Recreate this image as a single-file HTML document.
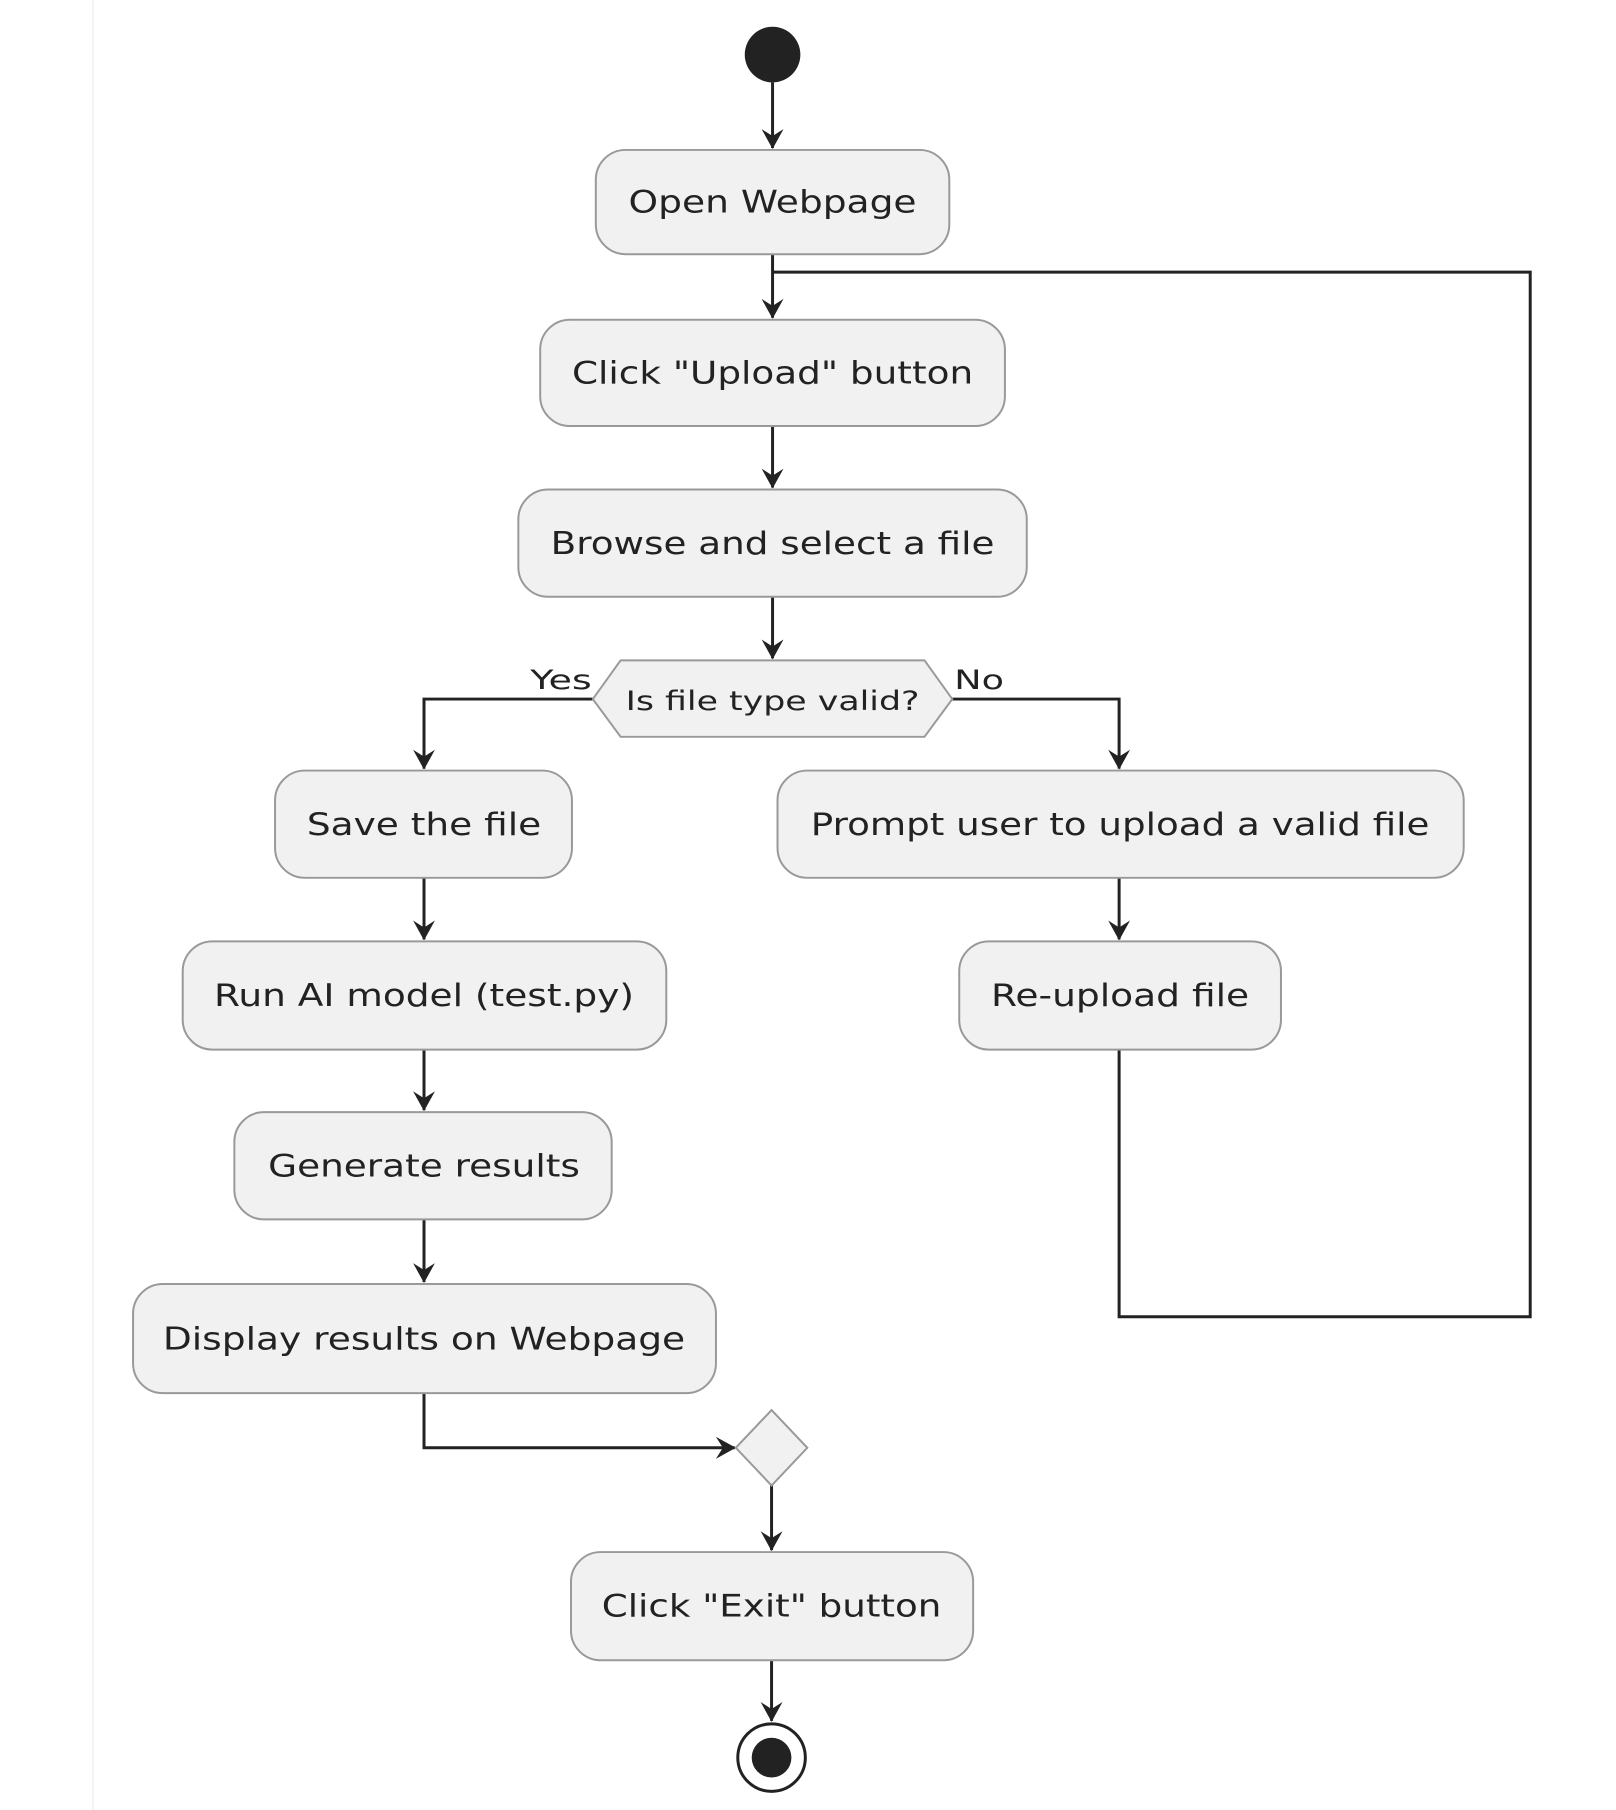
<!DOCTYPE html>
<html><head><meta charset="utf-8"><style>html,body{margin:0;padding:0;background:#fff}svg{display:block}</style></head>
<body>
<svg width="1616" height="1810" viewBox="0 0 1616 1810" xmlns="http://www.w3.org/2000/svg" font-family="'DejaVu Sans','Liberation Sans',sans-serif" font-size="31" fill="#222">
<defs>
<marker id="a" markerWidth="22" markerHeight="24" refX="19" refY="12" orient="auto" markerUnits="userSpaceOnUse">
<path d="M0,1 L20,12 L0,23 L7,12 Z" fill="#222"/>
</marker>
</defs>
<line x1="93" y1="0" x2="93" y2="1810" stroke="#f4f4f4" stroke-width="2"/>
<g transform="scale(0.993)">
<g stroke="#222" stroke-width="3" fill="none">
<line x1="778" y1="83" x2="778" y2="149" marker-end="url(#a)"/>
<line x1="778" y1="256" x2="778" y2="320" marker-end="url(#a)"/>
<line x1="778" y1="429" x2="778" y2="491" marker-end="url(#a)"/>
<line x1="778" y1="601" x2="778" y2="663" marker-end="url(#a)"/>
<polyline points="778,274 1541,274 1541,1326 1127,1326 1127,1057"/>
<polyline points="597,704 427,704 427,774" marker-end="url(#a)"/>
<polyline points="959,704 1127,704 1127,774" marker-end="url(#a)"/>
<line x1="427" y1="884" x2="427" y2="946" marker-end="url(#a)"/>
<line x1="427" y1="1057" x2="427" y2="1118" marker-end="url(#a)"/>
<line x1="427" y1="1228" x2="427" y2="1291" marker-end="url(#a)"/>
<line x1="1127" y1="884" x2="1127" y2="946" marker-end="url(#a)"/>
<polyline points="427,1403 427,1458 740,1458" marker-end="url(#a)"/>
<line x1="777" y1="1496" x2="777" y2="1561" marker-end="url(#a)"/>
<line x1="777" y1="1672" x2="777" y2="1733" marker-end="url(#a)"/>
</g>
<circle cx="778" cy="55" r="28" fill="#222"/>
<g fill="#f1f1f1" stroke="#999" stroke-width="2">
<rect x="600" y="151" width="356" height="105" rx="30"/>
<rect x="544" y="322" width="468" height="107" rx="30"/>
<rect x="522" y="493" width="512" height="108" rx="30"/>
<polygon points="597,704 625,665 931,665 959,704 931,742 625,742"/>
<rect x="277" y="776" width="299" height="108" rx="30"/>
<rect x="783" y="776" width="691" height="108" rx="30"/>
<rect x="184" y="948" width="487" height="109" rx="30"/>
<rect x="966" y="948" width="324" height="109" rx="30"/>
<rect x="236" y="1120" width="380" height="108" rx="30"/>
<rect x="134" y="1293" width="587" height="110" rx="30"/>
<polygon points="777,1420 813,1458 777,1496 741,1458"/>
<rect x="575" y="1563" width="405" height="109" rx="30"/>
</g>
<circle cx="777" cy="1770" r="34" fill="#fff" stroke="#222" stroke-width="3"/>
<circle cx="777" cy="1770" r="20" fill="#222"/>
<g text-anchor="middle">
<text x="778" y="214" textLength="290" lengthAdjust="spacingAndGlyphs">Open Webpage</text>
<text x="778" y="386" textLength="404" lengthAdjust="spacingAndGlyphs">Click "Upload" button</text>
<text x="778" y="558" textLength="447" lengthAdjust="spacingAndGlyphs">Browse and select a file</text>
<text x="778" y="715" font-size="27" textLength="296" lengthAdjust="spacingAndGlyphs">Is file type valid?</text>
<text x="427" y="841" textLength="236" lengthAdjust="spacingAndGlyphs">Save the file</text>
<text x="1128" y="841" textLength="623" lengthAdjust="spacingAndGlyphs">Prompt user to upload a valid file</text>
<text x="427" y="1013" textLength="423" lengthAdjust="spacingAndGlyphs">Run AI model (test.py)</text>
<text x="1128" y="1013" textLength="260" lengthAdjust="spacingAndGlyphs">Re-upload file</text>
<text x="427" y="1185" textLength="314" lengthAdjust="spacingAndGlyphs">Generate results</text>
<text x="427" y="1359" textLength="526" lengthAdjust="spacingAndGlyphs">Display results on Webpage</text>
<text x="777" y="1628" textLength="342" lengthAdjust="spacingAndGlyphs">Click "Exit" button</text>
</g>
<text x="534" y="694" font-size="27" textLength="62" lengthAdjust="spacingAndGlyphs">Yes</text>
<text x="961" y="694" font-size="27" textLength="50" lengthAdjust="spacingAndGlyphs">No</text>
</g>
</svg>
</body></html>
